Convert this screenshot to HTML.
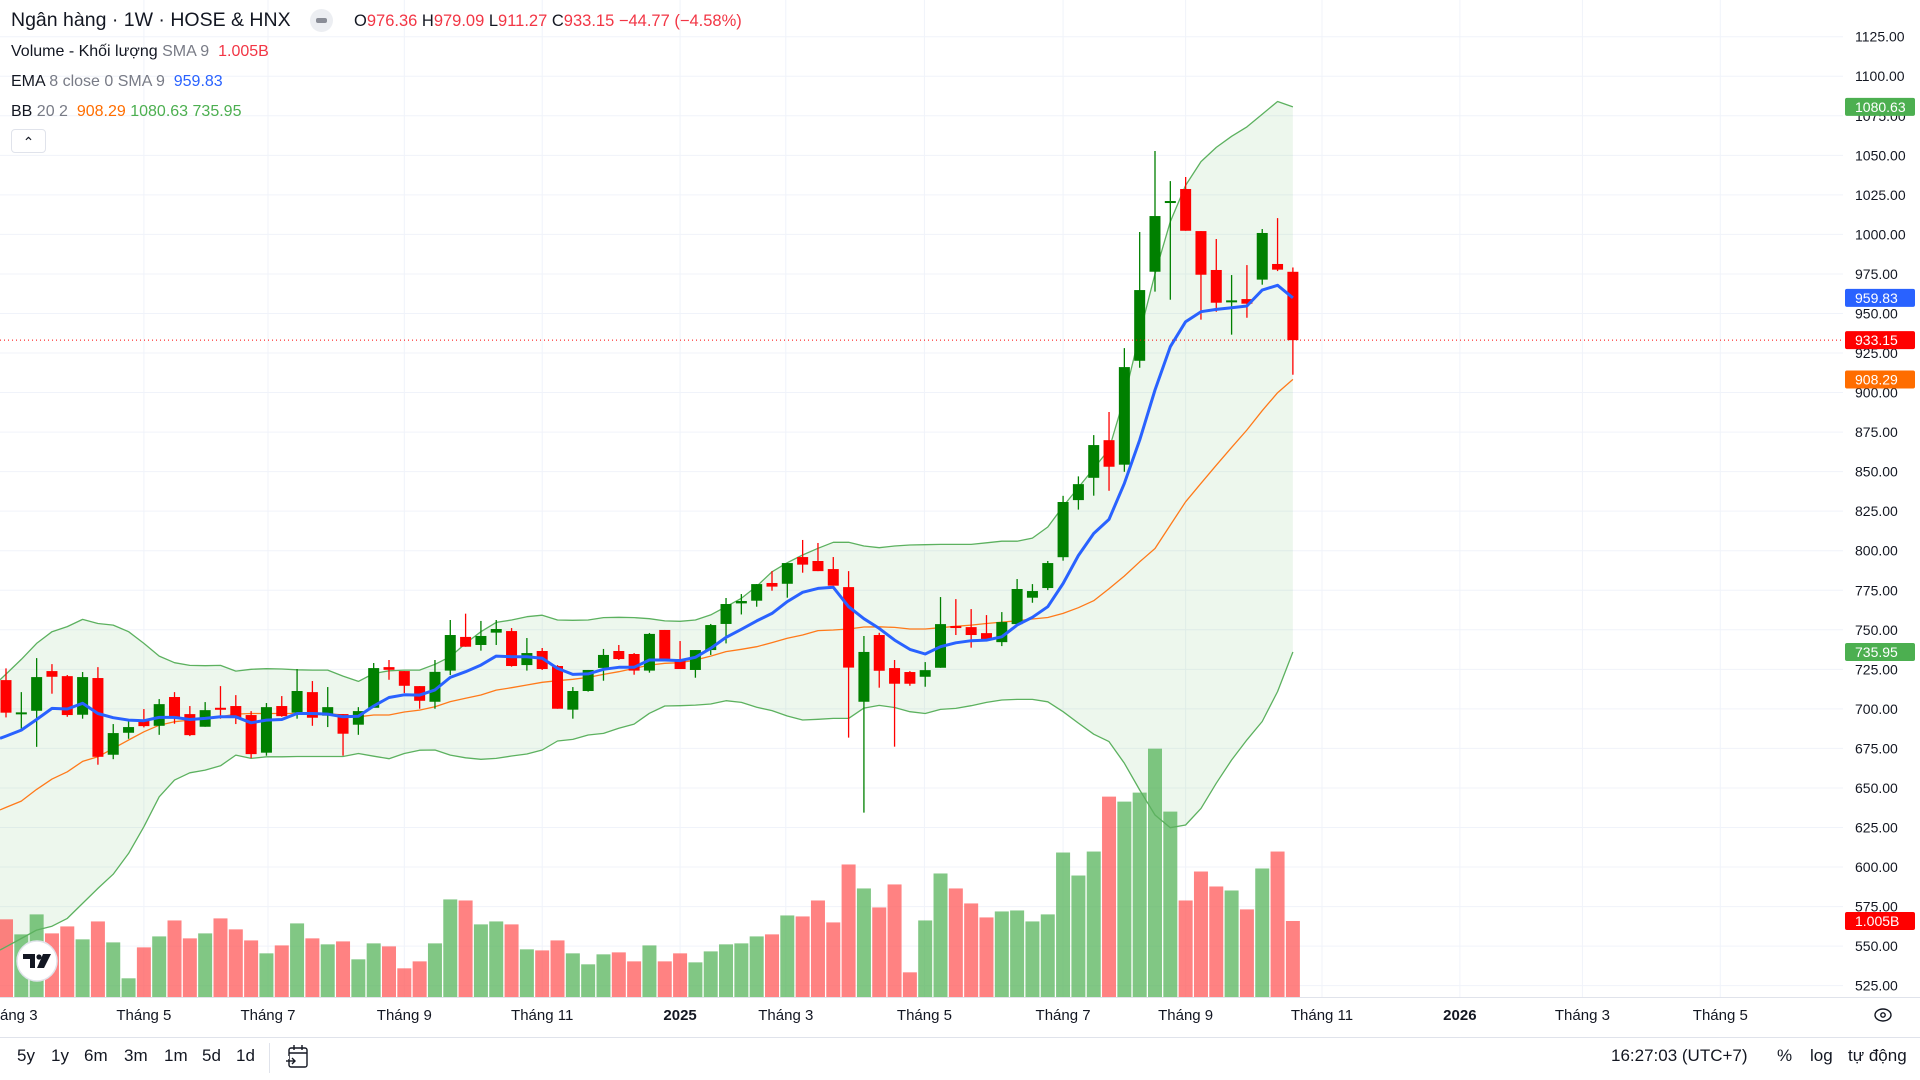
<!DOCTYPE html>
<html><head><meta charset="utf-8">
<style>
html,body{margin:0;padding:0;background:#fff;width:1920px;height:1080px;overflow:hidden;font-family:"Liberation Sans","Noto Sans CJK SC",sans-serif;}
#wrap{position:relative;width:1920px;height:1080px;}
svg{position:absolute;left:0;top:0;}
.leg{position:absolute;left:11px;font-size:16px;color:#131722;white-space:nowrap;}
.g{color:#787b86}
</style></head>
<body>
<div id="wrap">
<svg id="chart" width="1920" height="1080"></svg>

<div class="leg" style="top:9px;font-size:19.5px;">Ngân hàng · 1W · HOSE &amp; HNX</div>
<div style="position:absolute;left:310px;top:9px;width:23px;height:23px;border-radius:12px;background:#eceef2;"><div style="position:absolute;left:6px;top:9px;width:11px;height:5px;border-radius:2px;background:#8a8d97;"></div></div>
<div class="leg" style="left:354px;top:12px;font-size:16.5px;">O<span style="color:#f23645">976.36</span> H<span style="color:#f23645">979.09</span> L<span style="color:#f23645">911.27</span> C<span style="color:#f23645">933.15</span> <span style="color:#f23645">−44.77 (−4.58%)</span></div>
<div class="leg" style="top:43px;">Volume - Khối lượng <span class="g">SMA 9</span> <span style="color:#f23645">&nbsp;1.005B</span></div>
<div class="leg" style="top:73px;">EMA <span class="g">8 close 0 SMA 9</span> <span style="color:#2962ff">&nbsp;959.83</span></div>
<div class="leg" style="top:103px;">BB <span class="g">20 2</span> <span style="color:#ff6d00">&nbsp;908.29</span> <span style="color:#4caf50">1080.63</span> <span style="color:#4caf50">735.95</span></div>
<div style="position:absolute;left:11px;top:129px;width:33px;height:22px;border:1px solid #e0e3eb;border-radius:4px;background:#fff;text-align:center;font-size:14px;line-height:24px;color:#131722;">⌃</div>

<div style="position:absolute;left:0;top:1037px;width:1920px;height:1px;background:#e0e3eb;"></div>
<div style="position:absolute;left:0;top:1046px;width:1920px;height:26px;font-size:17px;color:#131722;">
  <span style="position:absolute;left:17px;">5y</span>
  <span style="position:absolute;left:51px;">1y</span>
  <span style="position:absolute;left:84px;">6m</span>
  <span style="position:absolute;left:124px;">3m</span>
  <span style="position:absolute;left:164px;">1m</span>
  <span style="position:absolute;left:202px;">5d</span>
  <span style="position:absolute;left:236px;">1d</span>
  <span style="position:absolute;left:269px;top:-3px;width:1px;height:30px;background:#e0e3eb;"></span>
  <svg style="position:absolute;left:286px;top:-2px;" width="24" height="26" viewBox="0 0 24 26"><rect x="3" y="4" width="18" height="19" rx="2" fill="none" stroke="#131722" stroke-width="1.4"/><line x1="3" y1="9" x2="21" y2="9" stroke="#131722" stroke-width="1.4"/><line x1="8" y1="1" x2="8" y2="6" stroke="#131722" stroke-width="1.4"/><line x1="16" y1="1" x2="16" y2="6" stroke="#131722" stroke-width="1.4"/><line x1="0" y1="17" x2="9" y2="17" stroke="#131722" stroke-width="1.4"/><polyline points="6,14 9,17 6,20" fill="none" stroke="#131722" stroke-width="1.4"/><rect x="0" y="12" width="3" height="3" fill="#fff"/></svg>
  <span style="position:absolute;left:1611px;">16:27:03 (UTC+7)</span>
  <span style="position:absolute;left:1777px;">%</span>
  <span style="position:absolute;left:1810px;">log</span>
  <span style="position:absolute;left:1848px;">tự động</span>
</div>
</div>

<script>
const opens=[718.2,696.9,698.8,723.9,720.7,696.3,719.5,671.0,684.9,692.5,689.3,707.5,696.7,688.7,700.7,701.8,696.1,672.3,701.8,697.6,710.6,695.7,696.7,690.0,700.7,726.4,723.9,714.4,704.5,724.2,745.5,740.4,748.2,749.2,727.7,736.6,727.1,699.5,711.3,725.9,736.6,734.7,724.2,749.9,731.5,724.6,737.2,753.7,766.7,768.4,779.6,779.1,796.0,793.5,788.4,777.0,704.5,746.7,725.8,723.3,720.3,726.0,752.4,751.7,747.9,742.2,753.6,770.3,776.4,795.9,832.0,846.1,869.9,854.4,920.1,976.4,1020.3,1028.7,1002.1,977.5,957.4,959.1,971.4,981.3,976.36];
const highs=[725.6,710.6,732.1,728.3,721.4,723.3,726.4,690.4,692.1,699.9,706.2,710.6,701.8,704.3,714.4,708.7,698.6,703.7,708.1,725.2,717.6,713.8,696.7,701.1,729.0,730.9,723.9,714.4,730.9,756.2,760.2,755.6,756.2,751.1,744.8,738.5,727.7,713.8,724.6,737.9,740.4,735.3,748.0,749.9,742.9,737.2,753.7,770.1,772.6,778.9,787.1,792.2,806.8,804.9,796.0,787.1,746.1,748.1,730.9,723.9,729.6,770.7,769.4,763.1,759.3,761.2,782.1,778.9,793.5,834.7,847.0,873.1,887.7,928.1,1001.5,1052.7,1033.7,1036.3,1002.1,997.1,974.3,980.6,1003.4,1010.3,979.09];
const lows=[694.6,687.0,676.0,709.6,695.0,693.8,664.7,668.2,681.1,688.3,683.6,690.6,682.8,688.7,693.8,690.4,668.9,670.4,695.0,693.8,689.3,688.5,670.4,683.6,700.7,718.4,710.0,700.1,700.1,721.4,739.3,736.8,740.4,726.7,724.2,724.6,700.1,693.8,710.9,717.8,730.9,721.6,722.9,730.9,725.2,719.7,734.1,741.4,759.7,764.6,774.7,770.3,786.1,787.1,777.9,681.8,634.4,713.4,676.1,714.6,714.0,726.0,746.7,738.7,742.7,739.7,753.6,767.1,775.1,793.7,826.0,834.8,837.9,849.9,915.7,963.8,958.7,1002.3,946.1,951.1,936.6,947.3,968.2,976.8,911.27];
const closes=[697.6,697.8,720.1,720.3,696.1,720.1,669.7,684.7,688.5,689.1,703.0,694.4,683.4,699.2,699.9,694.4,671.4,701.1,695.4,711.3,694.4,701.1,684.3,698.6,725.8,724.7,714.6,705.1,723.4,746.7,739.3,746.1,750.5,727.1,735.3,725.2,700.1,711.3,724.6,734.1,731.5,724.2,747.4,730.9,725.2,737.2,753.0,766.3,768.2,778.9,777.3,792.2,791.2,787.1,777.9,726.1,736.0,724.1,715.9,715.9,724.5,753.6,751.1,746.7,743.5,754.9,775.8,774.5,792.2,830.8,842.1,866.8,853.1,916.1,964.8,1011.6,1021.1,1002.3,974.5,956.8,958.3,956.2,1000.9,977.7,933.15];
const volumes=[1027,828,1092,841,933,762,999,722,247,656,801,1012,775,841,1039,894,748,577,682,973,775,696,735,498,709,669,379,471,709,1290,1276,960,999,960,630,616,748,577,432,564,590,471,682,471,577,458,603,696,709,801,828,1078,1065,1276,986,1752,1435,1184,1488,326,1012,1633,1435,1237,1052,1131,1144,999,1092,1910,1606,1923,2649,2583,2702,3283,2451,1276,1659,1461,1408,1158,1699,1923,1005];
const bbUpper=[722,731.3,741.4,748.8,752.0,756.6,754.0,753.0,748.8,741.4,733.4,729.2,727.5,727.3,727.5,723.9,725.0,725.4,725.2,724.7,724.5,724.5,720.7,717.4,722.4,724.1,724.5,724.5,728.2,733.0,741.4,748.8,754.7,756.2,758.3,759.2,756.2,756.0,756.2,757.7,757.9,757.7,757.0,755.6,755.4,756.2,759.4,764.6,769.9,777.5,786.7,792.4,797.3,801.5,805.3,805.3,803.0,801.9,803.0,803.6,803.8,804.0,804,804,805,806,806,808,815,828,840,852,864,897,937,975,1008,1031,1046,1055,1062,1068,1076,1084,1080.63];
const bbLower=[549.6,554.8,560.1,562.6,567.5,577.0,586.5,595.5,608.6,625.5,644.4,655.0,659.6,661.3,664.0,670.8,668.7,669.7,669.7,669.9,669.9,669.9,669.9,671.8,670.1,668.5,671.8,673.9,674.0,670.8,669.1,668.1,668.7,670.2,671.5,674.0,679.7,680.7,683.5,684.5,687.7,690.4,697.2,701.8,702.0,702.4,703.1,705.2,704.1,701.0,698.9,695.5,693.0,693.4,694.0,694.0,700.5,702.2,700.9,698.2,697.1,699.7,700.3,702.0,704.1,705.6,706.0,706.0,704.5,698.2,691,684,679.3,665.6,648.7,632.9,624.9,626.6,637.1,653.0,667.7,680.4,692,711,735.95];
const bbBasis=[637.7,641.7,649.1,655.6,660.2,666.8,669.7,675.0,680.3,685.5,689.7,691.9,692.9,694.0,695.0,696.7,697.1,697.1,697.1,697.1,697.1,697.1,696.1,695.0,696.1,696.1,698.0,699.2,701.3,704.6,706.7,708.8,711.9,713.4,715.1,716.8,717.8,718.7,719.9,721.8,723.5,725.6,727.7,728.8,729.2,730.9,733.4,736.2,737.7,739.3,741.9,744.6,746.7,749.5,749.9,750.5,751.8,751.9,751.5,750.5,750.5,751.3,752.2,753.0,754.0,754.9,755.7,756.8,757.8,760.4,764.0,768.4,776,784,793,801.4,816.2,830.9,842.6,854.1,865.3,876.3,888.5,899.9,908.29];
const emaVals=[682.8,686.6,693.3,700.3,699.9,703.5,697.1,694.4,692.9,692.5,694.6,694.6,693.3,694.0,695.0,695.0,691.2,692.9,693.3,697.1,697.1,696.7,695.0,695.4,701.8,707.2,708.9,708.7,712,719.9,723.5,727.7,733.4,733.0,733.0,732.0,725.6,721.8,722.1,725.0,726.3,726.3,730.9,730.9,730.5,732.6,738.3,745.2,750.3,755.6,760.4,767.8,773.7,776.2,776.9,764.6,757,750.9,743.5,737.6,734.7,739.3,741.8,743.1,743.5,745.6,753.0,757.9,764.6,779.3,797,810.9,819.8,842.6,870.0,901.6,929.0,944.8,951.1,952.6,953.6,954.7,964.8,967.8,959.83];
const priceTicks=[1125,1100,1075,1050,1025,1000,975,950,925,900,875,850,825,800,775,750,725,700,675,650,625,600,575,550,525];
const timeLabels=["áng 3","Tháng 5","Tháng 7","Tháng 9","Tháng 11","2025","Tháng 3","Tháng 5","Tháng 7","Tháng 9","Tháng 11","2026","Tháng 3","Tháng 5"];
const timeLabelIdx=[-0.4,9.0,17.1,26.0,35.0,44.0,50.9,59.95,69.0,77.0,85.9,94.9,102.9,111.9];
const boldLabels=["2025","2026"];

const NS="http://www.w3.org/2000/svg";
const svg=document.getElementById('chart');
const PLOT_R=1843, PLOT_B=997;
function X(i){return 6+15.32*i;}
function Y(p){return 36.7+(1125-p)*1.5816;}
function VH(v){return v/13.22;}
function mk(tag,attrs,parent){const e=document.createElementNS(NS,tag);for(const k in attrs)e.setAttribute(k,attrs[k]);(parent||svg).appendChild(e);return e;}
// extend to left chart edge (x=0) along first segment slope
function leftY(arr){const y0=Y(arr[0]),y1=Y(arr[1]);return y0-(y1-y0)*(6/15.32);}

const grid=mk('g',{});


priceTicks.forEach(p=>{const l=mk('line',{x1:0,x2:PLOT_R,y1:Y(p),y2:Y(p),stroke:'#f0f3fa','stroke-width':1},grid);

});
timeLabelIdx.forEach((t,k)=>{if(k===0)return;const x=X(t);const l=mk('line',{x1:x,x2:x,y1:0,y2:PLOT_B,stroke:'#f0f3fa','stroke-width':1},grid);

});

let pts=['0,'+leftY(bbUpper)];
for(let i=0;i<bbUpper.length;i++)pts.push(X(i)+','+Y(bbUpper[i]));
for(let i=bbLower.length-1;i>=0;i--)pts.push(X(i)+','+Y(bbLower[i]));
pts.push('0,'+leftY(bbLower));
const fill=mk('polygon',{points:pts.join(' '),fill:'rgba(76,175,80,0.1)'});



const vg=mk('g',{});


volumes.forEach((v,i)=>{const up=closes[i]>=opens[i];const h=VH(v);
const r=mk('rect',{x:X(i)-7,y:PLOT_B-h,width:14,height:h,fill:up?'rgba(76,175,80,0.7)':'rgba(255,82,82,0.72)'},vg);

});

function line(arr,color,w,name){const d='M0,'+leftY(arr).toFixed(1)+arr.map((v,i)=>'L'+X(i).toFixed(1)+','+Y(v).toFixed(1)).join('');
const p=mk('path',{d:d,fill:'none',stroke:color,'stroke-width':w,'stroke-linejoin':'round'});

}
line(bbUpper,'#5cb15f',1.3,'bb-upper-line');
line(bbLower,'#5cb15f',1.3,'bb-lower-line');
line(bbBasis,'#ff7a1a',1.3,'bb-basis-line');

const cg=mk('g',{});


opens.forEach((o,i)=>{const c=closes[i];const up=c>=o;const col=up?'#008000':'#ff0000';const x=X(i);
const w=mk('line',{x1:x,x2:x,y1:Y(highs[i]),y2:Y(lows[i]),stroke:col,'stroke-width':1.3},cg);


const top=Y(Math.max(o,c)),bot=Y(Math.min(o,c));
const b=mk('rect',{x:x-5.5,y:top,width:11,height:Math.max(2,bot-top),fill:col},cg);

});

line(emaVals,'#2962ff',3,'ema-line');

const lp=mk('line',{x1:0,x2:PLOT_R,y1:Y(closes[closes.length-1]),y2:Y(closes[closes.length-1]),stroke:'#ff0000','stroke-width':1,'stroke-dasharray':'1,3'});



const ab=mk('line',{x1:0,x2:1920,y1:PLOT_B+0.5,y2:PLOT_B+0.5,stroke:'#e0e3eb'});



const pa=mk('g',{'font-family':'Liberation Sans, sans-serif','font-size':14,fill:'#131722'});


priceTicks.forEach(p=>{const t=mk('text',{x:1855,y:Y(p)+5},pa);t.textContent=p.toFixed(2);

});

function badge(yv,txt,color,name){const g=mk('g',{});


mk('rect',{x:1845,y:yv-9,width:70,height:18,rx:2,fill:color},g);
const t=mk('text',{x:1855,y:yv+5,'font-family':'Liberation Sans, sans-serif','font-size':14,fill:'#fff'},g);t.textContent=txt;}
badge(Y(bbUpper[bbUpper.length-1]),'1080.63','#4caf50','bb-upper-badge');
badge(Y(emaVals[emaVals.length-1]),'959.83','#2962ff','ema-badge');
badge(Y(closes[closes.length-1]),'933.15','#ff0000','last-price-badge');
badge(Y(bbBasis[bbBasis.length-1]),'908.29','#ff6d00','bb-basis-badge');
badge(Y(bbLower[bbLower.length-1]),'735.95','#4caf50','bb-lower-badge');
badge(PLOT_B-VH(volumes[volumes.length-1]),'1.005B','#ff0000','volume-badge');

const ta=mk('g',{'font-family':'Liberation Sans, sans-serif','font-size':15,fill:'#131722','text-anchor':'middle'});


timeLabels.forEach((s,k)=>{const t=mk('text',{x:k===0?0:X(timeLabelIdx[k]),y:1020},ta);
if(k===0)t.setAttribute('text-anchor','start');
if(boldLabels.includes(s))t.setAttribute('font-weight','bold');
t.textContent=s;

});

const gear=mk('g',{});


mk('ellipse',{cx:1883,cy:1015,rx:8,ry:6,fill:'none',stroke:'#131722','stroke-width':1.4},gear);
mk('circle',{cx:1883,cy:1015,r:2.2,fill:'none',stroke:'#131722','stroke-width':1.4},gear);

const logo=mk('g',{});


mk('circle',{cx:37,cy:961,r:20,fill:'#fff',stroke:'#e0e3eb','stroke-width':1.5},logo);
mk('path',{d:'M23,954 H35 V968 H30 V959 H23 Z',fill:'#131722'},logo);
mk('circle',{cx:39,cy:957,r:2.6,fill:'#131722'},logo);
mk('path',{d:'M43,954 H51 L44,968 H37 Z',fill:'#131722'},logo);
</script>
</body></html>
